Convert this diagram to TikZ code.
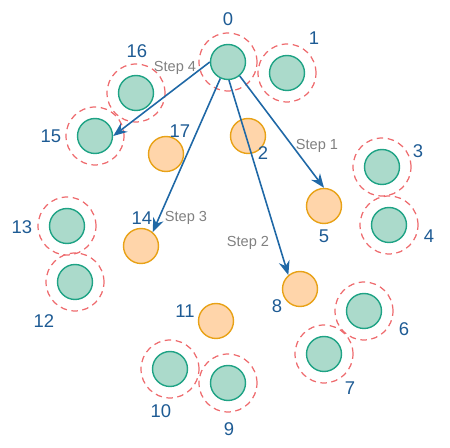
\documentclass[tikz,border=0pt]{standalone}
\usepackage{fontspec}
\setmainfont{Liberation Sans}
\usetikzlibrary{arrows.meta}
\definecolor{nodefill}{HTML}{ABDACB}
\definecolor{nodeline}{HTML}{1FA385}
\definecolor{waitfill}{HTML}{FFD5AA}
\definecolor{waitline}{HTML}{E8A217}
\definecolor{ringline}{HTML}{EE6B6E}
\definecolor{numblue}{HTML}{1E5B94}
\definecolor{hopblue}{HTML}{1F68A6}

\begin{document}
\begin{tikzpicture}[x=.02cm, y=-.02cm, line width=.6pt,
  busy/.style={circle, draw=nodeline, fill=nodefill, line width=.8pt, minimum size=.7cm, inner sep=0pt},
  idle/.style={circle, draw=waitline, fill=waitfill, line width=.8pt, minimum size=.7cm, inner sep=0pt},
  ring/.style={draw=ringline, line width=.7pt, dash pattern=on 3.7pt off 2.6pt},
  num/.style={text=numblue, font=\fontsize{10.5}{12}\selectfont, inner sep=0pt},
  hop/.style={draw=hopblue, line width=.9pt, -{Stealth[length=2.8mm, width=2.2mm]}},
  hoptext/.style={text=black!50, font=\fontsize{8.3}{10}\selectfont, inner sep=0pt}]
  \useasboundingbox (0,0) rectangle (450,448);
  \foreach \n/\x/\y/\lx/\ly in {0/228/62/228/19, 1/287/73/314/38, 3/382/167/418/151,
    4/389/225/429/236, 6/364/311/404/329, 7/324/354/350/388, 9/228/383/229/429,
    10/170/369/161/411, 12/75/282/44/321, 13/67/226/22/227, 15/95/136/51/136,
    16/136/93/137/51}
  {
    \draw [ring] (\x,\y) circle (.58cm);
    \node [busy] (n\n) at (\x,\y) {};
    \node [num] (l\n) at (\lx,\ly) {\n};
  }
  \foreach \n/\x/\y/\lx/\ly in {2/248/136/263/153, 5/324/206/324/236, 8/300/289/277/306,
    11/216/321/185/311, 14/141/246/142/218, 17/166/154/180/131}
  {
    \node [idle] (n\n) at (\x,\y) {};
    \node [num] (l\n) at (\lx,\ly) {\n};
  }
  \draw [hop] (n0.west) -- (n15.east);
  \draw [hop] (n0.-115) -- (n14.50);
  \draw [hop] (n0.-87) -- (n8.130);
  \draw [hop] (n0.-50) -- (n5.north);
  \node [hoptext] (s4) at (175,68) {Step 4};
  \node [hoptext] (s3) at (186,218) {Step 3};
  \node [hoptext] (s2) at (248,243) {Step 2};
  \node [hoptext] (s1) at (317,146) {Step 1};
\end{tikzpicture}
\end{document}
